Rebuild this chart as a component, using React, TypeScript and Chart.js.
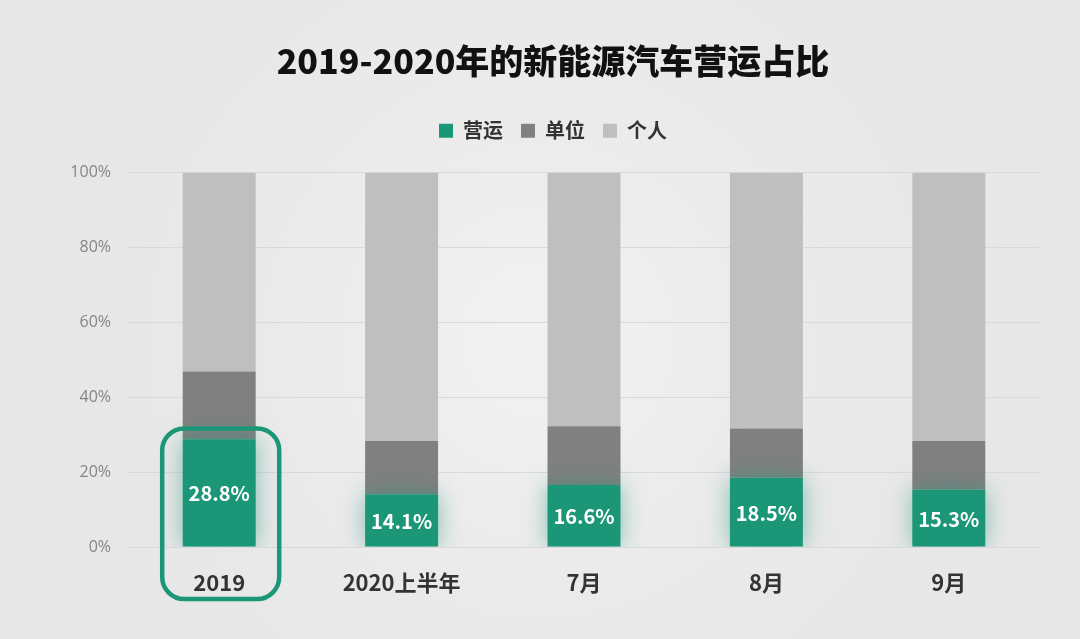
import React, { useEffect, useRef } from "react";
import { Chart, registerables } from "chart.js";

Chart.register(...registerables);

const categories = ["2019", "2020上半年", "7月", "8月", "9月"];
const seriesNames = ["营运", "单位", "个人"];
const operating = [28.8, 14.1, 16.6, 18.5, 15.3];
const unit = [18.1, 14.2, 15.7, 13.2, 13.0];
const personal = [53.1, 71.7, 67.7, 68.3, 71.7];
const yTicks = [0, 20, 40, 60, 80, 100];
const titleText = "2019-2020年的新能源汽车营运占比";
const highlightIndex = 0;

const GREEN = "#1b9677";
const DARK = "#808080";
const LIGHT = "#bfbfbf";
const CJK = "'Noto Sans CJK SC', 'Noto Sans', sans-serif";

export default function App() {
  const ref = useRef<HTMLCanvasElement | null>(null);

  useEffect(() => {
    document.body.style.margin = "0";
    const canvas = ref.current;
    if (!canvas) return;

    const bgPlugin = {
      id: "bg",
      beforeDraw(chart: any) {
        const { ctx, width, height } = chart;
        ctx.save();
        ctx.fillStyle = "#e7e7e7";
        ctx.fillRect(0, 0, width, height);
        const g = ctx.createRadialGradient(width / 2, height / 2 + 20, 40, width / 2, height / 2 + 20, 560);
        g.addColorStop(0, "rgba(241,241,241,1)");
        g.addColorStop(1, "rgba(231,231,231,0)");
        ctx.fillStyle = g;
        ctx.fillRect(0, 0, width, height);
        ctx.restore();
      },
    };

    const legendMargin = {
      id: "legendMargin",
      beforeInit(chart: any) {
        const orig = chart.legend.fit;
        chart.legend.fit = function () {
          orig.bind(chart.legend)();
          this.height += 22;
        };
      },
    };

    const glowPlugin = {
      id: "glow",
      beforeDatasetDraw(chart: any, args: any) {
        if (args.index === 0) {
          chart.ctx.save();
          chart.ctx.shadowColor = "rgba(27,150,119,0.5)";
          chart.ctx.shadowBlur = 22;
        }
      },
      afterDatasetDraw(chart: any, args: any) {
        if (args.index === 0) chart.ctx.restore();
      },
    };

    const labelPlugin = {
      id: "labels",
      afterDatasetsDraw(chart: any) {
        const { ctx } = chart;
        const meta = chart.getDatasetMeta(0);
        ctx.save();
        ctx.fillStyle = "#ffffff";
        ctx.font = `bold 20px ${CJK}`;
        ctx.textAlign = "center";
        ctx.textBaseline = "middle";
        meta.data.forEach((bar: any, i: number) => {
          const y = (bar.y + bar.base) / 2;
          ctx.fillText(operating[i].toFixed(1) + "%", bar.x, y + 1);
        });
        const bar = meta.data[highlightIndex];
        const yScale = chart.scales.y;
        const left = bar.x - 57;
        const right = bar.x + 60;
        const top = yScale.getPixelForValue(31.7);
        const bottom = yScale.getPixelForValue(0) + 52;
        ctx.strokeStyle = GREEN;
        ctx.lineWidth = 4.5;
        ctx.beginPath();
        ctx.roundRect(left, top, right - left, bottom - top, 22);
        ctx.stroke();
        ctx.restore();
      },
    };

    const chart = new Chart(canvas, {
      type: "bar",
      data: {
        labels: categories,
        datasets: [
          { label: seriesNames[0], data: operating, backgroundColor: GREEN },
          { label: seriesNames[1], data: unit, backgroundColor: DARK },
          { label: seriesNames[2], data: personal, backgroundColor: LIGHT },
        ],
      },
      options: {
        responsive: false,
        animation: false,
        layout: { padding: { left: 66, right: 40, top: 0, bottom: 30 } },
        datasets: { bar: { categoryPercentage: 1, barPercentage: 0.4 } },
        plugins: {
          title: {
            display: true,
            text: titleText,
            color: "#111111",
            font: { size: 34, weight: "900", family: CJK },
            padding: { top: 41, bottom: 21 },
          },
          legend: {
            display: true,
            labels: {
              color: "#333333",
              font: { size: 20, weight: "bold", family: CJK },
              boxWidth: 14,
              boxHeight: 14,
              padding: 18,
            },
          },
          tooltip: { enabled: false },
        },
        scales: {
          x: {
            stacked: true,
            grid: { display: false, drawTicks: false },
            border: { display: false },
            ticks: {
              color: "#333333",
              font: { size: 22, weight: "bold", family: CJK },
              padding: 22,
            },
            afterFit(scale: any) {
              scale.height = 62;
            },
          },
          y: {
            stacked: true,
            min: 0,
            max: 100,
            afterBuildTicks(scale: any) {
              scale.ticks = yTicks.map((v) => ({ value: v }));
            },
            grid: { color: "#d9d9d9", lineWidth: 1, drawTicks: false },
            border: { display: false },
            ticks: {
              color: "#858585",
              font: { size: 16, family: "'Open Sans', 'Noto Sans', sans-serif" },
              padding: 17,
              callback: (v: any) => v + "%",
            },
            afterFit(scale: any) {
              scale.width = 62;
            },
          },
        },
      },
      plugins: [bgPlugin, legendMargin, glowPlugin, labelPlugin],
    });

    return () => chart.destroy();
  }, []);

  return (
    <div style={{ width: 1080, height: 639 }}>
      <canvas ref={ref} width={1080} height={639} />
    </div>
  );
}
